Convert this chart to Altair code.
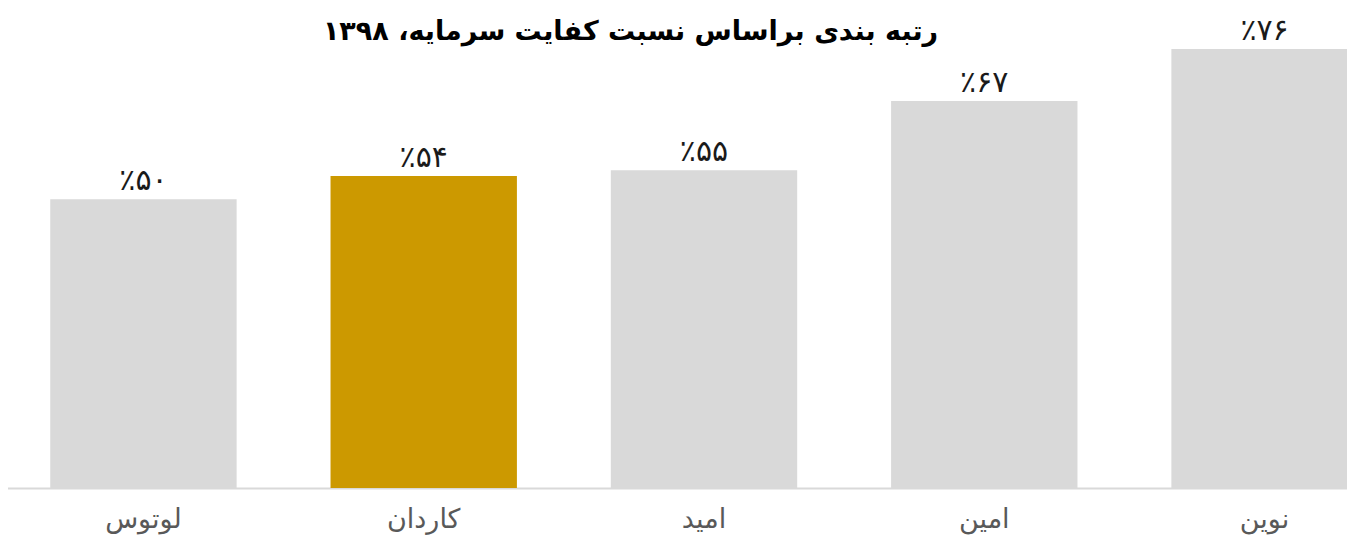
import altair as alt
import pandas as pd

categories = ["لوتوس", "کاردان", "امید", "امین", "نوین"]
values = [50, 54, 55, 67, 76]
labels = ["٪۵۰", "٪۵۴", "٪۵۵", "٪۶۷", "٪۷۶"]
highlight = "کاردان"
title_text = "رتبه بندی براساس نسبت کفایت سرمایه، ۱۳۹۸"

df = pd.DataFrame({"bank": categories, "value": values, "label": labels})

FONT = "DejaVu Sans"

x = alt.X(
    "bank:N",
    sort=categories,
    title=None,
    scale=alt.Scale(range=[-4, 1396], paddingInner=0.335, paddingOuter=0.165),
    axis=alt.Axis(
        labelAngle=0,
        labelFontSize=27,
        labelFont=FONT,
        labelColor="#595959",
        labelPadding=18,
        ticks=False,
        domainColor="#d9d9d9",
        domainWidth=2,
        grid=False,
    ),
)
y = alt.Y(
    "value:Q",
    scale=alt.Scale(domain=[0, 76], nice=False),
    axis=None,
)

bars = alt.Chart(df).mark_bar().encode(
    x=x,
    y=y,
    color=alt.condition(
        alt.datum.bank == highlight, alt.value("#cc9900"), alt.value("#d9d9d9")
    ),
)

text = alt.Chart(df).mark_text(
    font=FONT, fontSize=30, color="#1a1a1a", baseline="middle", dy=-18
).encode(x=x, y=y, text="label:N")

chart = (
    alt.layer(bars, text)
    .properties(
        width=1339,
        height=439,
        padding={"left": 0, "top": 41, "right": 0, "bottom": 52},
        autosize=alt.AutoSizeParams(type="none"),
        title=alt.TitleParams(
            title_text,
            font=FONT,
            fontSize=27,
            fontWeight="bold",
            color="#000000",
            anchor="middle",
            frame="group",
            dx=-47,
            offset=-30,
        ),
    )
    .configure_view(stroke=None)
)

chart.save("out.html", embed_options={"renderer": "svg", "actions": False})
